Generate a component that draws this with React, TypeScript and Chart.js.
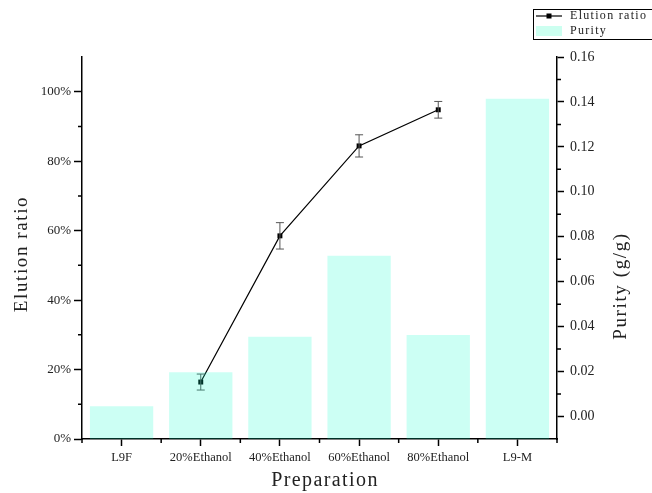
import React, { useEffect, useRef } from 'react';
import { Chart, registerables } from 'chart.js';

Chart.register(...registerables);

const categories = ['L9F', '20%Ethanol', '40%Ethanol', '60%Ethanol', '80%Ethanol', 'L9-M'];
const elutionRatio = [null, 16.4, 58.5, 84.4, 94.8, null];
const elutionError = [null, 2.3, 3.8, 3.2, 2.4, null];
const purity = [0.0046, 0.0197, 0.0355, 0.0715, 0.0363, 0.1414];
const leftTicks = [0, 20, 40, 60, 80, 100];
const leftMinor = [10, 30, 50, 70, 90];
const rightTicks = [0, 0.02, 0.04, 0.06, 0.08, 0.1, 0.12, 0.14, 0.16];
const rightMinor = [0.01, 0.03, 0.05, 0.07, 0.09, 0.11, 0.13, 0.15];
const leftMin = 0;
const leftMax = 110;
const rightMin = -0.01;
const rightMax = 0.16;

const BAR_FILL = 'rgba(0,255,200,0.2)';
const BAR_SWATCH = 'rgb(204,255,240)';
const TEXT = '#222';
const SERIF = '"Liberation Serif", "DejaVu Serif", serif';

const errorBarPlugin = {
  id: 'errorBars',
  afterDatasetDraw(chart: any, args: any) {
    if (args.index !== 0) return;
    const ctx = chart.ctx;
    const meta = chart.getDatasetMeta(0);
    const ys = chart.scales.y;
    ctx.save();
    ctx.strokeStyle = '#555';
    ctx.lineWidth = 1;
    elutionRatio.forEach((v, i) => {
      const e = elutionError[i];
      if (v == null || e == null) return;
      const x = meta.data[i].x;
      const yt = ys.getPixelForValue(v + e);
      const yb = ys.getPixelForValue(v - e);
      ctx.beginPath();
      ctx.moveTo(x, yt);
      ctx.lineTo(x, yb);
      ctx.moveTo(x - 4, yt);
      ctx.lineTo(x + 4, yt);
      ctx.moveTo(x - 4, yb);
      ctx.lineTo(x + 4, yb);
      ctx.stroke();
    });
    ctx.restore();
  },
};

const decorPlugin = {
  id: 'decor',
  afterDraw(chart: any) {
    const ctx = chart.ctx;
    const { left, right, bottom } = chart.chartArea;
    const ys = chart.scales.y;
    const y1 = chart.scales.y1;
    ctx.save();
    ctx.strokeStyle = '#000';
    ctx.lineWidth = 1.5;
    ctx.beginPath();
    leftMinor.forEach((v) => {
      const y = ys.getPixelForValue(v);
      ctx.moveTo(left - 4, y);
      ctx.lineTo(left, y);
    });
    rightMinor.forEach((v) => {
      const y = y1.getPixelForValue(v);
      ctx.moveTo(right, y);
      ctx.lineTo(right + 4, y);
    });
    const w = (right - left) / categories.length;
    for (let i = 0; i <= categories.length; i++) {
      const x = left + i * w;
      ctx.moveTo(x, bottom);
      ctx.lineTo(x, bottom + 4);
    }
    ctx.stroke();

    // axis titles
    ctx.fillStyle = TEXT;
    ctx.textAlign = 'center';
    ctx.textBaseline = 'middle';
    ctx.font = `19px ${SERIF}`;
    (ctx as any).letterSpacing = '1.6px';
    ctx.save();
    ctx.translate(22, 254);
    ctx.rotate(-Math.PI / 2);
    ctx.fillText('Elution ratio', 0, 0);
    ctx.restore();
    ctx.save();
    ctx.translate(621, 286);
    ctx.rotate(-Math.PI / 2);
    ctx.fillText('Purity (g/g)', 0, 0);
    ctx.restore();
    ctx.font = `20px ${SERIF}`;
    (ctx as any).letterSpacing = '1.4px';
    ctx.fillText('Preparation', 325, 481);

    // legend
    (ctx as any).letterSpacing = '0px';
    ctx.lineWidth = 1;
    ctx.strokeStyle = '#000';
    ctx.strokeRect(533.5, 9.5, 130, 30);
    ctx.lineWidth = 1.2;
    ctx.beginPath();
    ctx.moveTo(536, 16);
    ctx.lineTo(562, 16);
    ctx.stroke();
    ctx.fillStyle = '#000';
    ctx.fillRect(546.5, 13.5, 5, 5);
    ctx.fillStyle = BAR_SWATCH;
    ctx.fillRect(536, 26, 26, 10);
    ctx.fillStyle = TEXT;
    ctx.textAlign = 'left';
    ctx.font = `12px ${SERIF}`;
    (ctx as any).letterSpacing = '1.3px';
    ctx.fillText('Elution ratio', 570, 16);
    ctx.fillText('Purity', 570, 31);
    ctx.restore();
  },
};

export default function App() {
  const ref = useRef<HTMLCanvasElement | null>(null);

  useEffect(() => {
    if (!ref.current) return;
    const chart = new Chart(ref.current, {
      type: 'bar',
      data: {
        labels: categories,
        datasets: [
          {
            type: 'line',
            label: 'Elution ratio',
            data: elutionRatio as any,
            yAxisID: 'y',
            borderColor: '#000',
            borderWidth: 1.2,
            pointStyle: 'rect',
            pointRadius: 3.5,
            pointBackgroundColor: '#000',
            pointBorderColor: '#000',
            pointBorderWidth: 0,
            spanGaps: false,
            order: 2,
          } as any,
          {
            type: 'bar',
            label: 'Purity',
            data: purity,
            yAxisID: 'y1',
            backgroundColor: BAR_FILL,
            borderWidth: 0,
            barPercentage: 0.8,
            categoryPercentage: 1,
            base: rightMin,
            order: 1,
          } as any,
        ],
      },
      options: {
        animation: false,
        responsive: true,
        maintainAspectRatio: false,
        layout: { padding: { top: 57, left: 0, right: 0, bottom: 0 } },
        plugins: {
          legend: { display: false },
          tooltip: { enabled: false },
        },
        scales: {
          x: {
            offset: true,
            grid: {
              display: true,
              drawOnChartArea: false,
              offset: false,
              tickLength: 7,
              color: '#000',
              tickWidth: 1.5,
            },
            border: { display: true, color: '#000', width: 1.5 },
            ticks: {
              font: { family: SERIF, size: 12.5 },
              color: TEXT,
              padding: 4,
              maxRotation: 0,
              autoSkip: false,
            },
            afterFit: (s: any) => {
              s.height = 54;
            },
          },
          y: {
            type: 'linear',
            position: 'left',
            min: leftMin,
            max: leftMax,
            afterBuildTicks: (s: any) => {
              s.ticks = leftTicks.map((v) => ({ value: v }));
            },
            grid: {
              display: true,
              drawOnChartArea: false,
              tickLength: 8,
              color: '#000',
              tickWidth: 1.5,
            },
            border: { display: true, color: '#000', width: 1.5 },
            ticks: {
              font: { family: SERIF, size: 13 },
              color: TEXT,
              padding: 3,
              callback: (v: any) => `${v}%`,
            },
            afterFit: (s: any) => {
              s.width = 82;
            },
          },
          y1: {
            type: 'linear',
            position: 'right',
            min: rightMin,
            max: rightMax,
            afterBuildTicks: (s: any) => {
              s.ticks = rightTicks.map((v) => ({ value: v }));
            },
            grid: {
              display: true,
              drawOnChartArea: false,
              tickLength: 7,
              color: '#000',
              tickWidth: 1.5,
            },
            border: { display: true, color: '#000', width: 1.5 },
            ticks: {
              font: { family: SERIF, size: 14 },
              color: TEXT,
              padding: 6,
              callback: (v: any) => Number(v).toFixed(2),
            },
            afterFit: (s: any) => {
              s.width = 95;
            },
          },
        },
      },
      plugins: [errorBarPlugin, decorPlugin],
    });
    return () => chart.destroy();
  }, []);

  return (
    <div style={{ position: 'fixed', left: 0, top: 0, width: 652, height: 493, background: '#fff' }}>
      <canvas ref={ref} />
    </div>
  );
}
